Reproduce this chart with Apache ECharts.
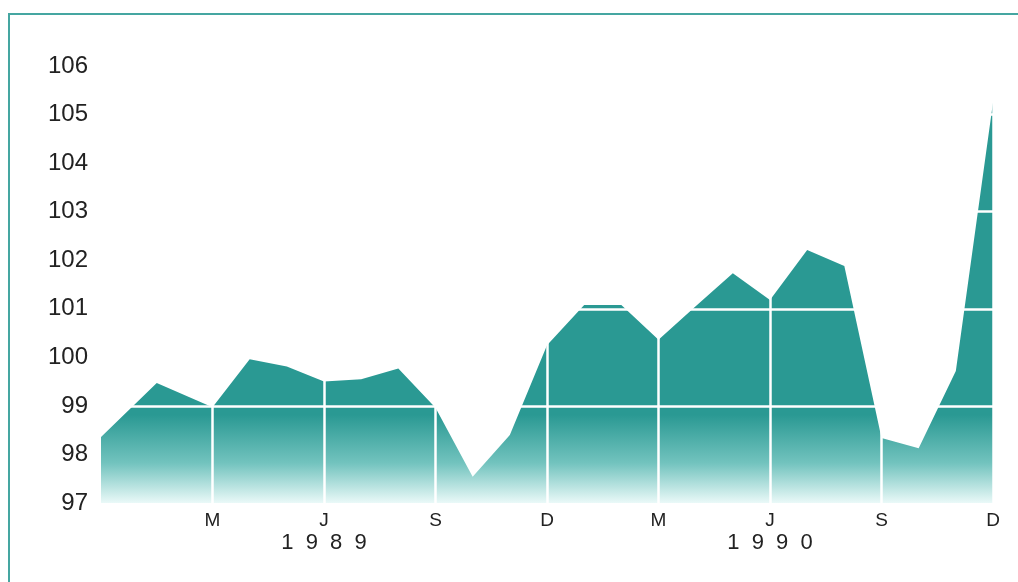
<!DOCTYPE html>
<html>
<head>
<meta charset="utf-8">
<script src="https://cdn.jsdelivr.net/npm/echarts@6/dist/echarts.min.js"></script>
<style>
  html, body { margin: 0; padding: 0; background: #ffffff; }
  #chart { width: 1018px; height: 582px; }
</style>
</head>
<body>
<div id="chart"></div>
<script>
// Month offsets counted from December 1988 (0) to December 1990 (24)
const months = [0, 1.5, 3, 4, 5, 6, 7, 8, 9, 10, 11, 12, 13, 14, 15, 16, 17, 18, 19, 20, 21, 22, 23, 24];
// Index values
const values = [98.36, 99.47, 98.97, 99.96, 99.81, 99.50, 99.55, 99.77, 98.96, 97.54, 98.40, 100.25,
                101.08, 101.08, 100.36, 101.05, 101.73, 101.18, 102.21, 101.88, 98.34, 98.13, 99.72, 105.25];

// Quarter ticks and their month letters
const quarterTicks = [3, 6, 9, 12, 15, 18, 21, 24];
const quarterLabels = ['M', 'J', 'S', 'D', 'M', 'J', 'S', 'D'];
// Year captions placed under the June ticks
const yearTicks = [6, 18];
const yearLabels = ['1989', '1990'];
// White reference lines drawn across the area
const refLevels = [99, 101, 103, 105];

const teal = '#2a9993';
const font = '"Liberation Sans", Arial, Helvetica, sans-serif';

const chart = echarts.init(document.getElementById('chart'));

const seriesData = months.map((m, i) => [m, values[i]]);

chart.setOption({
  backgroundColor: '#ffffff',
  animation: false,
  graphic: [{
    type: 'rect',
    shape: { x: 9, y: 14, width: 1040, height: 620 },
    style: { fill: 'none', stroke: '#45a6a1', lineWidth: 2 },
    silent: true
  }],
  grid: { left: 101, right: 25, top: 66, bottom: 79 },
  xAxis: {
    type: 'value',
    min: 0,
    max: 24,
    interval: 3,
    axisLine: { show: false },
    axisTick: { show: false },
    splitLine: { show: false },
    axisLabel: {
      margin: 7,
      showMinLabel: true,
      showMaxLabel: true,
      fontFamily: font,
      color: '#222',
      formatter: function (v) {
        const qi = quarterTicks.indexOf(v);
        if (qi < 0) return '';
        let s = '{m|' + quarterLabels[qi] + '}';
        const yi = yearTicks.indexOf(v);
        if (yi >= 0) s += '\n{y|' + yearLabels[yi].split('').join('  ') + '}';
        return s;
      },
      rich: {
        m: { fontSize: 19, lineHeight: 21, fontFamily: font, color: '#222' },
        y: { fontSize: 22, lineHeight: 24, fontFamily: font, color: '#222' }
      }
    }
  },
  yAxis: {
    type: 'value',
    min: 97,
    max: 106,
    interval: 1,
    axisLine: { show: false },
    axisTick: { show: false },
    splitLine: { show: false },
    axisLabel: {
      margin: 13,
      fontSize: 24,
      fontFamily: font,
      color: '#222'
    }
  },
  series: [{
    type: 'line',
    data: seriesData,
    showSymbol: false,
    smooth: false,
    lineStyle: { width: 0 },
    areaStyle: {
      opacity: 1,
      color: {
        type: 'linear', x: 0, y: 0, x2: 0, y2: 1,
        colorStops: [
          { offset: 0, color: teal },
          { offset: 0.78, color: teal },
          { offset: 0.9, color: '#72c3be' },
          { offset: 1, color: '#eaf9f8' }
        ]
      }
    },
    markLine: {
      silent: true,
      symbol: 'none',
      label: { show: false },
      lineStyle: { color: '#ffffff', width: 2.5, type: 'solid', opacity: 1 },
      emphasis: { disabled: true },
      data: refLevels.map(v => ({ yAxis: v }))
        .concat(quarterTicks.map(t => ({ xAxis: t })))
    }
  }]
});
</script>
</body>
</html>
